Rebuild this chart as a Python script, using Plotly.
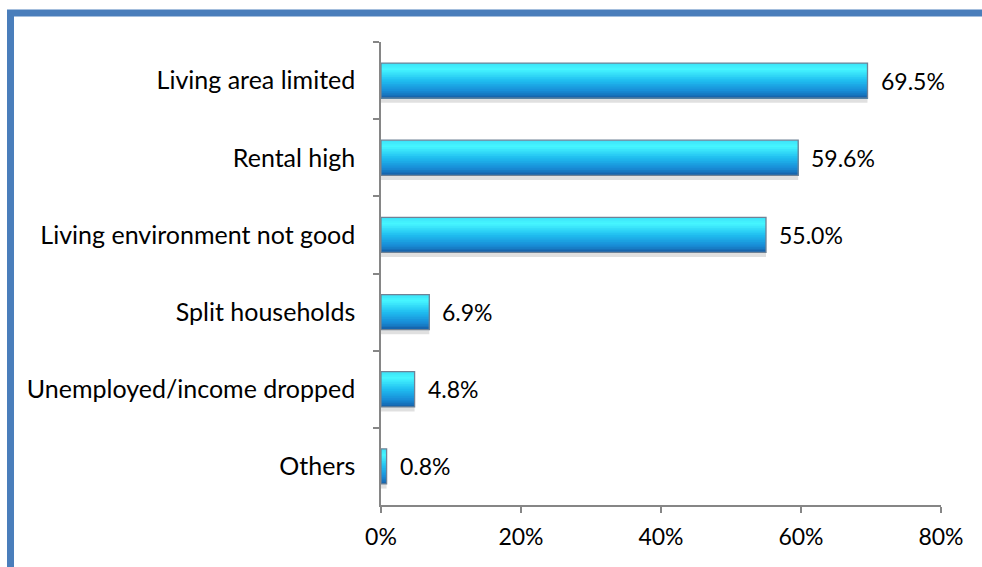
import plotly.graph_objects as go

# Reasons given (share of respondents, %)
categories = [
    "Living area limited",
    "Rental high",
    "Living environment not good",
    "Split households",
    "Unemployed/income dropped",
    "Others",
]
shares = [69.5, 59.6, 55.0, 6.9, 4.8, 0.8]
x_ticks = [0, 20, 40, 60, 80]
x_tick_labels = ["0%", "20%", "40%", "60%", "80%"]

FONT = "Lato, Carlito, 'Open Sans', sans-serif"
BAR_W = 0.455


def lerp_color(stops, t):
    for (t0, c0), (t1, c1) in zip(stops, stops[1:]):
        if t0 <= t <= t1:
            f = (t - t0) / (t1 - t0) if t1 > t0 else 0
            return "rgb({},{},{})".format(*[round(a + (b - a) * f) for a, b in zip(c0, c1)])
    return "rgb({},{},{})".format(*stops[-1][1])


# vertical gradient of the glossy bar, top to bottom
stops = [
    (0.00, (60, 225, 248)),
    (0.18, (70, 246, 255)),
    (0.50, (32, 190, 240)),
    (0.80, (24, 140, 215)),
    (1.00, (22, 96, 168)),
]

fig = go.Figure()

# soft drop shadow under each bar
fig.add_trace(go.Bar(
    x=shares, y=categories, orientation="h",
    width=BAR_W, offset=-BAR_W / 2 + 0.06,
    marker=dict(color="rgba(0,0,0,0.12)", line=dict(width=0)),
    hoverinfo="skip", showlegend=False,
))

# gradient built from stacked thin bands; each band starts at its own top
# edge and runs to the bottom of the bar, so neighbours overlap without seams
N = 20
for k in range(N):
    t = (k + 0.5) / N
    top = -BAR_W / 2 + k * BAR_W / N
    fig.add_trace(go.Bar(
        x=shares, y=categories, orientation="h",
        width=BAR_W / 2 - top, offset=top,
        marker=dict(color=lerp_color(stops, t), line=dict(width=0)),
        hoverinfo="skip", showlegend=False,
    ))

# outline of each bar
fig.add_trace(go.Bar(
    x=shares, y=categories, orientation="h",
    width=BAR_W, offset=-BAR_W / 2,
    marker=dict(color="rgba(0,0,0,0)", line=dict(color="#6F8296", width=1.3)),
    showlegend=False,
))

# value labels
for cat, v in zip(categories, shares):
    fig.add_annotation(
        x=v, y=cat, text=f"{v:.1f}%", showarrow=False,
        xanchor="left", yanchor="middle", xshift=11,
        font=dict(family=FONT, size=23, color="#000000"),
    )

# frame around the chart area
fig.add_shape(
    type="path", xref="paper", yref="paper",
    path="M -0.6616,-0.2 L -0.6616,1.0626 L 1.2,1.0626",
    line=dict(color="#4A7EBB", width=7),
)

fig.update_layout(
    width=982, height=567,
    margin=dict(l=381, r=41, t=42, b=62),
    paper_bgcolor="white", plot_bgcolor="white",
    barmode="overlay",
    font=dict(family=FONT, size=23, color="#000000"),
    xaxis=dict(
        range=[0, 80], tickvals=x_ticks, ticktext=x_tick_labels,
        tickfont=dict(size=23),
        showgrid=False, zeroline=False,
        showline=True, linecolor="#868686", linewidth=1.5,
        ticks="outside", ticklen=6, tickcolor="#868686", tickwidth=1.5,
        ticklabelstandoff=5,
        fixedrange=True,
    ),
    yaxis=dict(
        type="category", categoryorder="array", categoryarray=categories,
        autorange="reversed",
        tickfont=dict(size=25),
        showgrid=False, zeroline=False,
        showline=True, linecolor="#868686", linewidth=1.5,
        ticks="outside", ticklen=6, tickcolor="#868686", tickwidth=1.5,
        tickson="boundaries", ticklabelstandoff=19,
        fixedrange=True,
    ),
    showlegend=False,
)

fig.write_html("out.html")
